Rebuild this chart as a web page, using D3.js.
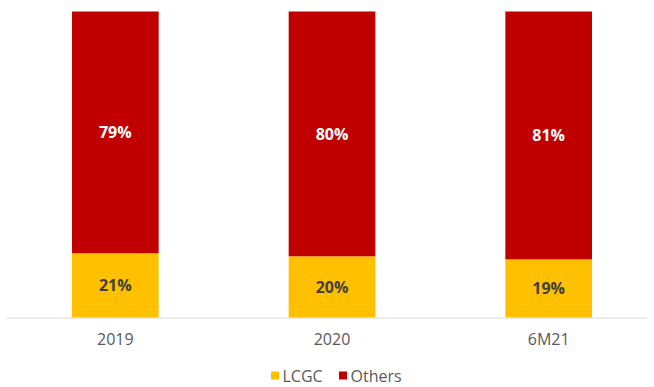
<!DOCTYPE html>
<html>
<head>
<meta charset="utf-8">
<script src="https://cdn.jsdelivr.net/npm/d3@7"></script>
<style>
  html, body { margin: 0; padding: 0; background: #ffffff; }
  svg { display: block; font-family: "Open Sans", "DejaVu Sans", sans-serif; }
</style>
</head>
<body>
<svg id="chart" width="654" height="387"></svg>
<script>
// Share of volume by segment, stacked to 100%
const categories = ["2019", "2020", "6M21"];
const lcgc = [21, 20, 19];
const others = [79, 80, 81];
const seriesNames = ["LCGC", "Others"];
const seriesColors = ["#FFC000", "#C00000"];
const labelColors = ["#404040", "#ffffff"];

const svg = d3.select("#chart");
const W = 654;
const margin = { left: 7, right: -3, top: 11.5, bottom: 69.5 };
const plotH = 387 - margin.top - margin.bottom;

const x = d3.scaleBand()
  .domain(categories)
  .range([margin.left, W - margin.right])
  .paddingInner(0.6)
  .paddingOuter(0.3);

const y = d3.scaleLinear()
  .domain([0, 100])
  .range([margin.top + plotH, margin.top]);

const rows = categories.map((c, i) => ({ cat: c, LCGC: lcgc[i], Others: others[i] }));
const stacked = d3.stack().keys(seriesNames)(rows);

const g = svg.append("g");

stacked.forEach((layer, si) => {
  const lg = g.append("g");
  lg.selectAll("rect")
    .data(layer)
    .join("rect")
    .attr("x", d => x(d.data.cat))
    .attr("width", x.bandwidth())
    .attr("y", d => y(d[1]))
    .attr("height", d => y(d[0]) - y(d[1]))
    .attr("fill", seriesColors[si]);

  lg.selectAll("text")
    .data(layer)
    .join("text")
    .attr("x", d => x(d.data.cat) + x.bandwidth() / 2)
    .attr("y", d => (y(d[0]) + y(d[1])) / 2)
    .attr("dy", "0.36em")
    .attr("text-anchor", "middle")
    .attr("font-size", 16)
    .attr("font-weight", "bold")
    .attr("fill", labelColors[si])
    .text(d => (d[1] - d[0]) + "%");
});

// baseline axis
const axis = d3.axisBottom(x).tickSize(0).tickPadding(16);
const ax = svg.append("g")
  .attr("transform", `translate(0,${y(0)})`)
  .call(axis);
ax.select(".domain").remove();
ax.append("line")
  .attr("x1", 7).attr("x2", 647)
  .attr("y1", 0.5).attr("y2", 0.5)
  .attr("stroke", "#d9d9d9").attr("stroke-width", 1);
ax.selectAll(".tick text")
  .attr("font-size", 16)
  .attr("fill", "#595959")
  .attr("font-family", "'Open Sans', 'DejaVu Sans', sans-serif");

// legend
const legend = svg.append("g").attr("transform", "translate(271,376)");
const legendOffsets = [0, 68];
seriesNames.forEach((name, i) => {
  const item = legend.append("g").attr("transform", `translate(${legendOffsets[i]},0)`);
  item.append("rect")
    .attr("x", 0).attr("y", -4.5)
    .attr("width", 8).attr("height", 8)
    .attr("fill", seriesColors[i]);
  item.append("text")
    .attr("x", 11.5).attr("y", 0)
    .attr("dy", "0.36em")
    .attr("font-size", 16)
    .attr("fill", "#595959")
    .text(name);
});
</script>
</body>
</html>
